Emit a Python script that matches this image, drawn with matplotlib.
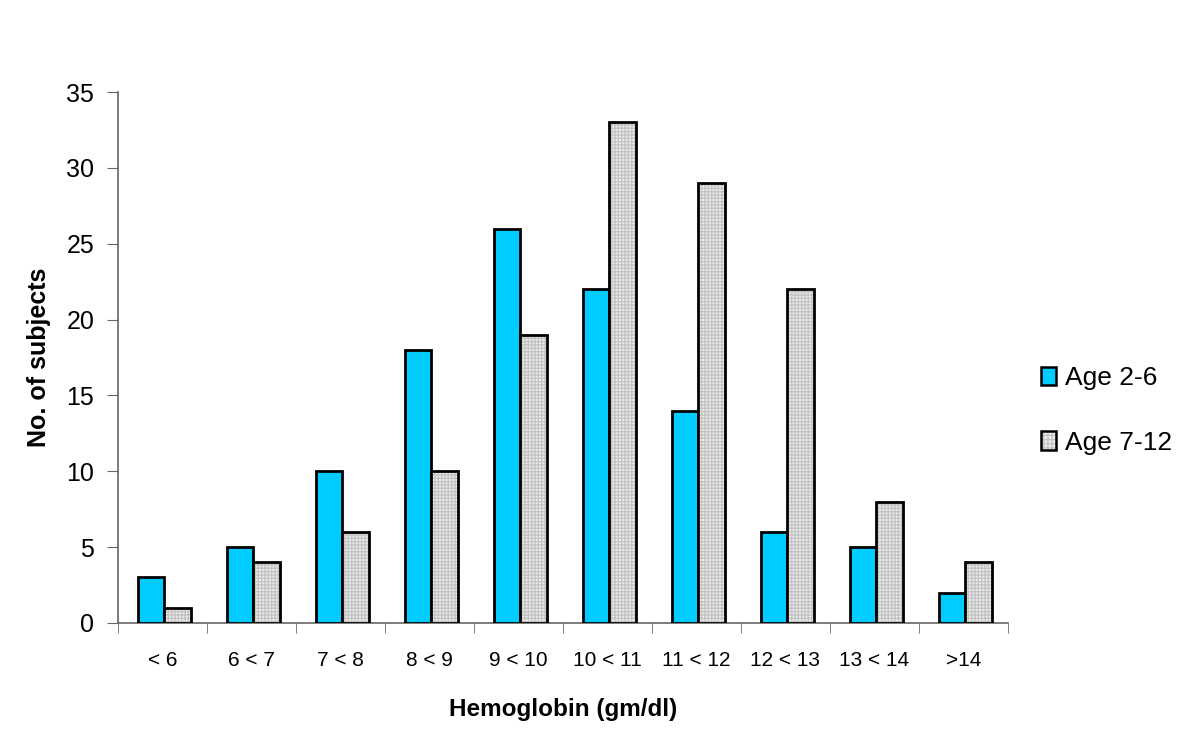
import numpy as np
import matplotlib
matplotlib.use("Agg")
import matplotlib.pyplot as plt
from matplotlib.patches import Patch

plt.rcParams['font.family'] = ['Liberation Sans', 'DejaVu Sans']

categories = ['< 6', '6 < 7', '7 < 8', '8 < 9', '9 < 10', '10 < 11',
              '11 < 12', '12 < 13', '13 < 14', '>14']
age_2_6 = [3, 5, 10, 18, 26, 22, 14, 6, 5, 2]
age_7_12 = [1, 4, 6, 10, 19, 33, 29, 22, 8, 4]

fig = plt.figure(figsize=(12, 7.37), dpi=100)
ax = fig.add_axes([0.0983, 0.1547, 0.7417, 0.7203])

x = np.arange(len(categories))
w = 0.3
ax.bar(x - w / 2 + 0.02, age_2_6, w, color='#00ccff', edgecolor='black',
       linewidth=2.0, zorder=3)
# hatched grey bars: hatch drawn first, black outline on top
ax.bar(x + w / 2 + 0.02, age_7_12, w, color='#eeeeee', edgecolor='#c4c4c4',
       hatch='+++++', linewidth=0, zorder=3)
ax.bar(x + w / 2 + 0.02, age_7_12, w, color='none', edgecolor='black',
       linewidth=2.0, zorder=4)

# legend proxies
h1 = Patch(facecolor='#00ccff', edgecolor='black', linewidth=1.8)
h2a = Patch(facecolor='#eeeeee', edgecolor='#c4c4c4', hatch='++++', linewidth=0)
h2b = Patch(facecolor='none', edgecolor='black', linewidth=1.8)
leg = fig.legend(handles=[h1, (h2a, h2b)], labels=['Age 2-6', 'Age 7-12'],
                 loc='center left', bbox_to_anchor=(0.848, 0.443),
                 frameon=False, fontsize=19, handlelength=0.55, handleheight=0.7,
                 handletextpad=0.35, labelspacing=1.55)

ax.set_xlim(-0.5, len(categories) - 0.5)
ax.set_ylim(0, 35)
ax.set_yticks(range(0, 36, 5))
ax.set_xticks(x)
ax.set_xticklabels(categories)
ax.set_xticks(np.arange(-0.5, len(categories), 1), minor=True)
ax.tick_params(axis='x', which='major', length=0, pad=20, labelsize=15)
ax.tick_params(axis='x', which='minor', length=7, color='#666666', direction='out')
ax.tick_params(axis='y', length=8, color='#666666', labelsize=18, pad=9)

for side in ['top', 'right']:
    ax.spines[side].set_visible(False)
for side in ['left', 'bottom']:
    ax.spines[side].set_color('#666666')
    ax.spines[side].set_linewidth(1.2)

ax.set_xlabel('Hemoglobin (gm/dl)', fontsize=17.5, fontweight='bold', labelpad=20)
ax.set_ylabel('No. of subjects', fontsize=18, fontweight='bold', labelpad=11)

fig.savefig('out.png', dpi=100)
